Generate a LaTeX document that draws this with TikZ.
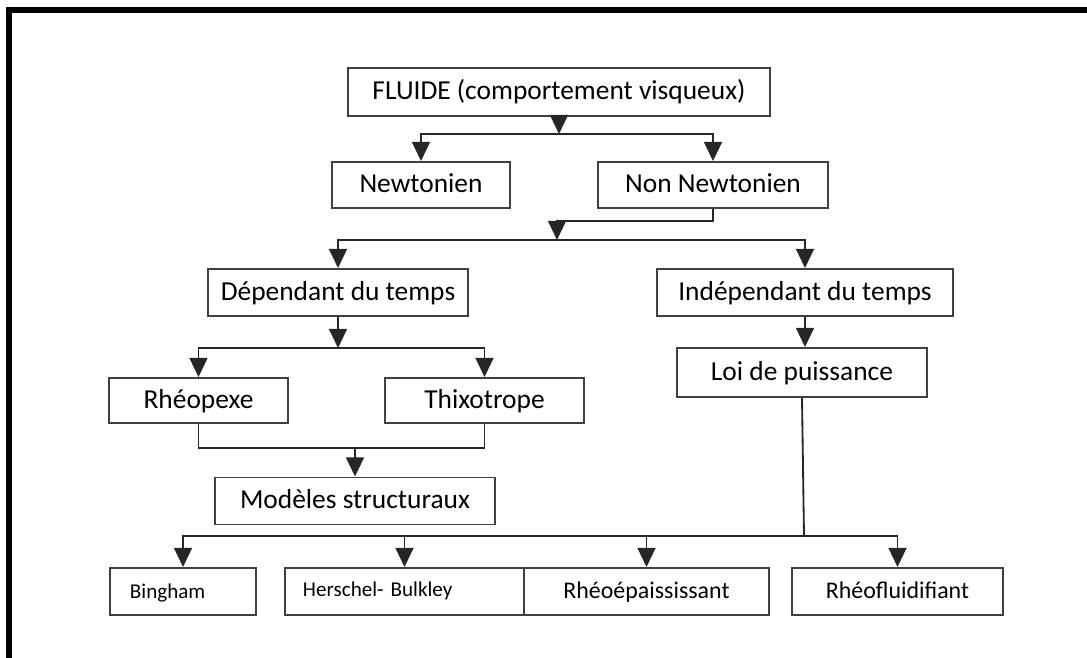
\documentclass[tikz,border=0pt]{standalone}
\usepackage{fontspec}
\setmainfont{Carlito}
\usetikzlibrary{arrows.meta,positioning}

\begin{document}
\begin{tikzpicture}[x=0.025cm,y=-0.025cm,
    boite/.style={draw=black!75, line width=1.4pt, inner sep=0pt,
      font=\fontsize{19.5}{22}\selectfont, text height=1.15em, text depth=0.05em},
    petite/.style={boite, font=\fontsize{15}{18}\selectfont, text height=1.05em},
    moyenne/.style={boite, font=\fontsize{17}{20}\selectfont, text height=1.05em},
    fleche/.style={draw=black!85, line width=1.3pt, -{Triangle[width=0.45cm,length=0.48cm]}},
    trait/.style={draw=black!85, line width=1.3pt}]
  \useasboundingbox (0,0) rectangle (1087,658);
  \draw[line width=4.2pt] (9,658) -- (9,10) -- (1087,10);

  \node[boite, minimum width=10.55cm, minimum height=1.2cm] (fluide) at (559,92) {FLUIDE (comportement visqueux)};
  \node[boite, minimum width=4.45cm, minimum height=1.15cm] (newt) at (421,185) {Newtonien};
  \node[boite, minimum width=5.75cm, minimum height=1.15cm] (nonnewt) at (713,185) {Non Newtonien};
  \node[boite, minimum width=6.5cm, minimum height=1.175cm] (dep) at (338,292.5) {Dépendant du temps};
  \node[boite, minimum width=7.4cm, minimum height=1.175cm] (indep) at (805,292.5) {Indépendant du temps};
  \node[boite, minimum width=4.475cm, minimum height=1.125cm] (rheop) at (198.5,400.5) {Rhéopexe};
  \node[boite, minimum width=4.975cm, minimum height=1.125cm] (thixo) at (484.5,400.5) {Thixotrope};
  \node[boite, minimum width=7cm, minimum height=1.175cm] (modeles) at (355,501) {Modèles structuraux};
  \node[boite, minimum width=6.25cm, minimum height=1.225cm] (loi) at (802,372.5) {Loi de puissance};

  \node[petite, minimum height=1.175cm, inner xsep=0.5cm, text width=2.65cm, align=left] (bingham) at (183,591.5) {Bingham};
  \node[petite, minimum height=1.175cm, inner xsep=0.45cm, text width=5.075cm, align=left, text depth=0.3em] (herschel) at (404.5,591.5) {Herschel- Bulkley};
  \node[moyenne, minimum width=6.125cm, minimum height=1.175cm] (rheoep) at (646.5,591.5) {Rhéoépaississant};
  \node[moyenne, minimum width=5.275cm, minimum height=1.175cm] (rheofl) at (897.5,591.5) {Rhéofluidifiant};

  % branchements
  \coordinate (c1) at (559,134);
  \coordinate (c2) at (557,240);
  \coordinate (c3) at (338,348);
  \coordinate (c4) at (355,447);
  \coordinate (c5) at (804,536);

  \draw[fleche] (fluide) -- (c1);
  \draw[fleche] (c1) -| (newt.north);
  \draw[fleche] (c1) -| (nonnewt.north);
  \draw[fleche] (nonnewt.south) -- ++(0,12) -| (c2);
  \draw[fleche] (c2) -| (dep.north);
  \draw[fleche] (c2) -| (indep.north);

  \draw[fleche] (dep) -- (c3);
  \draw[fleche] (c3) -| (rheop.north);
  \draw[fleche] (c3) -| (thixo.north);
  \draw[trait] (rheop.south) -- ++(0,24) -| (thixo.south);
  \draw[fleche] (c4) -- (modeles.north);

  \draw[fleche] (indep) -- (indep |- loi.north);
  \draw[trait] (loi.south) -- (c5);
  \draw[fleche] (c5) -| (bingham.north);
  \draw[fleche] (c5) -| (rheofl.north);
  \draw[fleche] (herschel.north |- c5) -- (herschel.north);
  \draw[fleche] (rheoep.north |- c5) -- (rheoep.north);
\end{tikzpicture}
\end{document}
